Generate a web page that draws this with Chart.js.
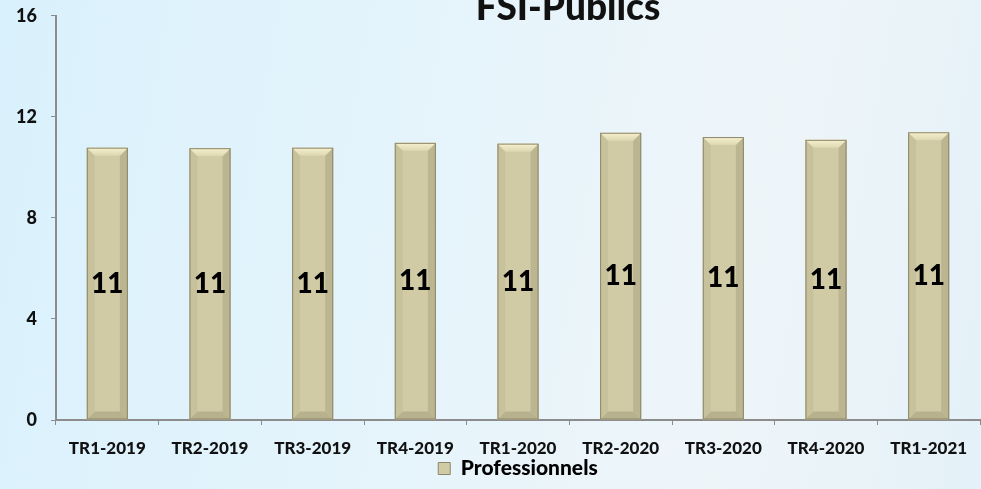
<!DOCTYPE html>
<html>
<head>
<meta charset="utf-8">
<script src="https://cdn.jsdelivr.net/npm/chart.js@4/dist/chart.umd.min.js"></script>
<style>
  html, body { margin: 0; padding: 0; }
  body {
    width: 981px; height: 489px; overflow: hidden;
    background: linear-gradient(100deg, #d9f1fc 0%, #e6f4fb 45%, #eef5f9 75%, #e4f1f8 100%);
  }
  /* canvas is a bit taller and pulled up so the title runs off the top edge */
  canvas { display: block; margin-top: -9px; }
</style>
</head>
<body>
<canvas id="chart" width="981" height="498"></canvas>
<script>
// quarterly count of professionals
const quarters = ['TR1-2019', 'TR2-2019', 'TR3-2019', 'TR4-2019', 'TR1-2020', 'TR2-2020', 'TR3-2020', 'TR4-2020', 'TR1-2021'];
const professionnels = [10.78, 10.76, 10.78, 10.97, 10.94, 11.37, 11.2, 11.09, 11.39];
const yTicks = [0, 4, 8, 12, 16];
const chartTitle = 'FSI-Publics';
const seriesName = 'Professionnels';

const FONT = 'Lato, "Open Sans", sans-serif';
const FACE = '#d1cba5';
const EDGE = '#8d876a';

const titlePlugin = {
  id: 'cutTitle',
  afterDraw(chart) {
    const ctx = chart.ctx;
    ctx.save();
    ctx.font = '900 37px ' + FONT;
    ctx.fillStyle = '#111';
    ctx.textAlign = 'center';
    ctx.textBaseline = 'alphabetic';
    ctx.fillText(chartTitle, 568, 29);
    ctx.restore();
  }
};

// bevelled look on each bar + value label in the middle
const bevelPlugin = {
  id: 'bevel',
  afterDatasetsDraw(chart) {
    const ctx = chart.ctx;
    const meta = chart.getDatasetMeta(0);
    meta.data.forEach((bar, i) => {
      const l = bar.x - bar.width / 2, r = bar.x + bar.width / 2;
      const t = bar.y, b = bar.base, e = 8;
      ctx.save();
      // left / right strips
      ctx.fillStyle = '#c8c29c';
      ctx.beginPath();
      ctx.moveTo(l, t); ctx.lineTo(l + e, t + e); ctx.lineTo(l + e, b - e); ctx.lineTo(l, b);
      ctx.closePath(); ctx.fill();
      ctx.fillStyle = '#bbb591';
      ctx.beginPath();
      ctx.moveTo(r, t); ctx.lineTo(r - e, t + e); ctx.lineTo(r - e, b - e); ctx.lineTo(r, b);
      ctx.closePath(); ctx.fill();
      // top highlight
      const g = ctx.createLinearGradient(0, t, 0, t + e);
      g.addColorStop(0, '#f6f0cf');
      g.addColorStop(1, '#ddd7b1');
      ctx.fillStyle = g;
      ctx.beginPath();
      ctx.moveTo(l, t); ctx.lineTo(r, t); ctx.lineTo(r - e, t + e); ctx.lineTo(l + e, t + e);
      ctx.closePath(); ctx.fill();
      // bottom shade
      ctx.fillStyle = '#b7b18e';
      ctx.beginPath();
      ctx.moveTo(l, b); ctx.lineTo(r, b); ctx.lineTo(r - e, b - e); ctx.lineTo(l + e, b - e);
      ctx.closePath(); ctx.fill();
      ctx.strokeStyle = EDGE;
      ctx.lineWidth = 1;
      ctx.strokeRect(l + 0.5, t + 0.5, bar.width - 1, b - t - 1);
      // value label
      ctx.font = '900 28px ' + FONT;
      ctx.fillStyle = '#000';
      ctx.textAlign = 'center';
      ctx.textBaseline = 'middle';
      ctx.fillText(Math.round(professionnels[i]), bar.x, (t + b) / 2);
      ctx.restore();
    });
  }
};

new Chart(document.getElementById('chart'), {
  type: 'bar',
  data: {
    labels: quarters,
    datasets: [{
      label: seriesName,
      data: professionnels,
      backgroundColor: FACE,
      borderColor: EDGE,
      borderWidth: 0,
      barPercentage: 0.4,
      categoryPercentage: 1
    }]
  },
  options: {
    responsive: false,
    animation: false,
    devicePixelRatio: 1,
    layout: { padding: { top: 7, right: 1, left: 0, bottom: 0 } },
    plugins: {
      title: { display: false },
      tooltip: { enabled: false },
      legend: {
        position: 'bottom',
        fullSize: false,
        labels: {
          color: '#111',
          font: { family: FONT, size: 21, weight: '900' },
          boxWidth: 12,
          boxHeight: 12,
          padding: 4,
          generateLabels: () => [{
            text: seriesName,
            fillStyle: FACE,
            strokeStyle: EDGE,
            lineWidth: 1,
            datasetIndex: 0
          }]
        }
      }
    },
    scales: {
      x: {
        afterFit: (s) => { s.height = 34; },
        grid: { display: true, drawOnChartArea: false, color: '#8c8c8c', lineWidth: 1, tickLength: 5, offset: true },
        border: { color: '#8c8c8c', width: 2 },
        ticks: { color: '#111', font: { family: FONT, size: 17, weight: '900' }, padding: 13, maxRotation: 0 }
      },
      y: {
        min: 0,
        max: 16,
        afterFit: (s) => { s.width = 56; },
        afterBuildTicks: (s) => { s.ticks = yTicks.map(v => ({ value: v })); },
        grid: { display: true, drawOnChartArea: false, color: '#8c8c8c', lineWidth: 1, tickLength: 5 },
        border: { color: '#8c8c8c', width: 2 },
        ticks: { color: '#111', font: { family: FONT, size: 18, weight: '900' }, padding: 14 }
      }
    }
  },
  plugins: [bevelPlugin, titlePlugin]
});
</script>
</body>
</html>
